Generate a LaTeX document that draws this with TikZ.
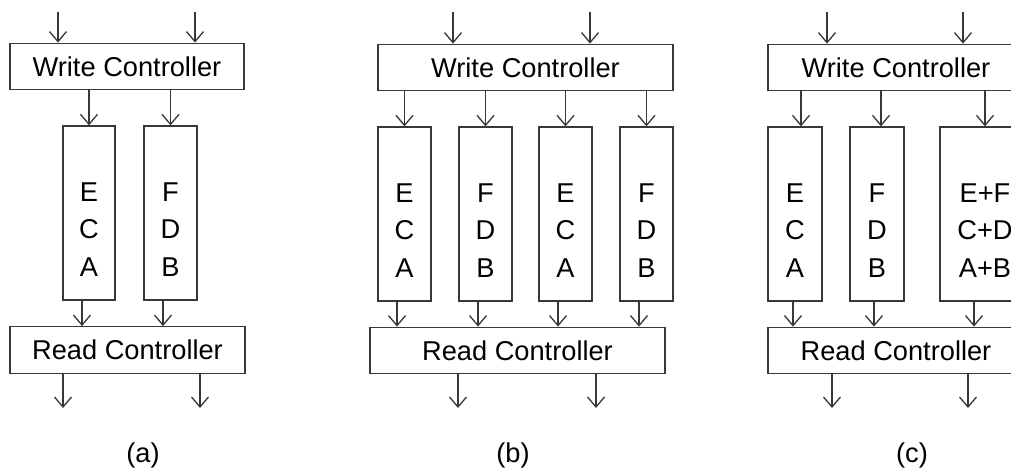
\documentclass[tikz,border=0pt]{standalone}
\usepackage{fontspec}
\setmainfont{Liberation Sans}
\usetikzlibrary{arrows.meta}
\colorlet{edge}{black!78}
\begin{document}
\begin{tikzpicture}[x=0.2mm,y=-0.2mm,
  font=\fontsize{15.5}{21.3}\selectfont,
  ctrl/.style={draw=edge, line width=0.75pt, minimum width=#1, minimum height=9.3mm, inner sep=0pt},
  bank/.style={draw=edge, line width=0.75pt, minimum width=#1, minimum height=34.8mm, inner sep=0pt},
  stack/.style={align=center, yshift=-3.3mm},
  arr/.style={draw=edge, line width=0.75pt, -{Straight Barb[length=2mm,width=3.4mm]}}]
\useasboundingbox (0,0) rectangle (1011,475);
\clip (0,0) rectangle (1011,475);

% (a) two banks
\node[ctrl=46.8mm] (wcA) at (127,66.5) {Write Controller};
\node[bank=10.4mm, label={[stack]center:E\\C\\A}] (colA1) at (89,213) {};
\node[bank=10.6mm, label={[stack]center:F\\D\\B}] (colA2) at (170.5,213) {};
\node[ctrl=47mm] (rcA) at (127.5,350) {Read Controller};
\node (labA) at (143,455) {(a)};

\coordinate (inA1) at (58,12);
\coordinate (inA2) at (195,12);
\coordinate (outA1) at (63,408);
\coordinate (outA2) at (200,408);
\draw[arr] (inA1) -- (inA1 |- wcA.north);
\draw[arr] (inA2) -- (inA2 |- wcA.north);
\draw[arr] (colA1.north |- wcA.south) -- (colA1.north);
\draw[arr] (colA2.north |- wcA.south) -- (colA2.north);
\draw[arr] ([xshift=-1.4mm]colA1.south) -- ([xshift=-1.4mm]colA1.south |- rcA.north);
\draw[arr] ([xshift=-1.5mm]colA2.south) -- ([xshift=-1.5mm]colA2.south |- rcA.north);
\draw[arr] (outA1 |- rcA.south) -- (outA1);
\draw[arr] (outA2 |- rcA.south) -- (outA2);

% (b) four banks
\node[ctrl=59mm] (wcB) at (525.5,67.5) {Write Controller};
\node[bank=10.6mm, label={[stack]center:E\\C\\A}] (colB1) at (404.5,214) {};
\node[bank=10.6mm, label={[stack]center:F\\D\\B}] (colB2) at (485.5,214) {};
\node[bank=10.6mm, label={[stack]center:E\\C\\A}] (colB3) at (565.5,214) {};
\node[bank=10.6mm, label={[stack]center:F\\D\\B}] (colB4) at (646.5,214) {};
\node[ctrl=59mm] (rcB) at (517.5,350.5) {Read Controller};
\node (labB) at (513,455) {(b)};

\coordinate (inB1) at (453,12);
\coordinate (inB2) at (590,12);
\coordinate (outB1) at (458,408);
\coordinate (outB2) at (596,408);
\draw[arr] (inB1) -- (inB1 |- wcB.north);
\draw[arr] (inB2) -- (inB2 |- wcB.north);
\foreach \c in {colB1,colB2,colB3,colB4} {
  \draw[arr] (\c.north |- wcB.south) -- (\c.north);
  \draw[arr] ([xshift=-1.5mm]\c.south) -- ([xshift=-1.5mm]\c.south |- rcB.north);
}
\draw[arr] (outB1 |- rcB.south) -- (outB1);
\draw[arr] (outB2 |- rcB.south) -- (outB2);

% (c) two banks plus the sum bank
\node[ctrl=51.2mm] (wcC) at (896,67.5) {Write Controller};
\node[bank=10.8mm, label={[stack]center:E\\C\\A}] (colC1) at (795,214) {};
\node[bank=10.8mm, label={[stack]center:F\\D\\B}] (colC2) at (877,214) {};
\node[bank=18mm, label={[stack]center:E+F\\C+D\\A+B}] (colC3) at (985,214) {};
\node[ctrl=51.2mm] (rcC) at (896,350.5) {Read Controller};
\node (labC) at (912,455) {(c)};

\coordinate (inC1) at (827,12);
\coordinate (inC2) at (963,12);
\coordinate (outC1) at (832,408);
\coordinate (outC2) at (968,408);
\draw[arr] (inC1) -- (inC1 |- wcC.north);
\draw[arr] (inC2) -- (inC2 |- wcC.north);
\draw[arr] ([xshift=1.2mm]colC1.north |- wcC.south) -- ([xshift=1.2mm]colC1.north);
\draw[arr] ([xshift=0.8mm]colC2.north |- wcC.south) -- ([xshift=0.8mm]colC2.north);
\draw[arr] (colC3.north |- wcC.south) -- (colC3.north);
\draw[arr] ([xshift=-0.4mm]colC1.south) -- ([xshift=-0.4mm]colC1.south |- rcC.north);
\draw[arr] ([xshift=-0.6mm]colC2.south) -- ([xshift=-0.6mm]colC2.south |- rcC.north);
\draw[arr] ([xshift=-2.2mm]colC3.south) -- ([xshift=-2.2mm]colC3.south |- rcC.north);
\draw[arr] (outC1 |- rcC.south) -- (outC1);
\draw[arr] (outC2 |- rcC.south) -- (outC2);
\end{tikzpicture}
\end{document}
